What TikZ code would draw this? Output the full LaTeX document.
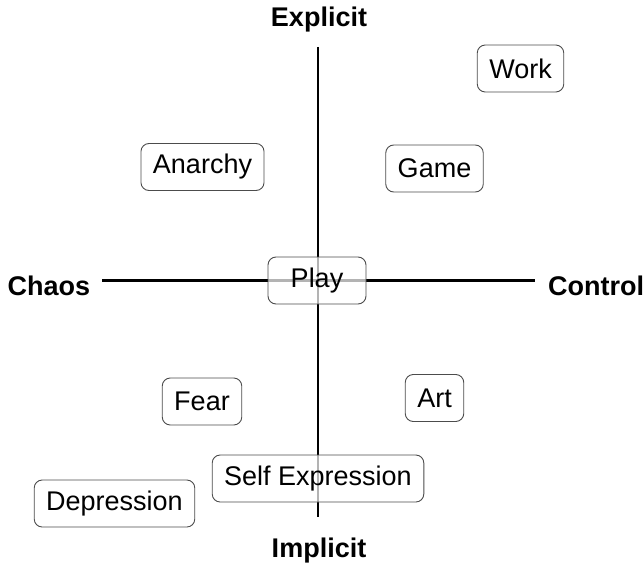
\documentclass[tikz,border=0pt]{standalone}
\usepackage{fontspec}
\setmainfont{Liberation Sans}
\usetikzlibrary{positioning}

\begin{document}
\begin{tikzpicture}[x=1pt,y=-1pt,
    concept/.style={draw=black!70,line width=0.9pt,rounded corners=8pt,fill=white,
                    fill opacity=0.7,text opacity=1,font=\fontsize{27}{32}\selectfont,
                    minimum height=47pt,inner xsep=12pt},
    pole/.style={font=\fontsize{27}{32}\selectfont\bfseries,anchor=base,inner sep=0pt},
    axis/.style={line width=2.8pt}]
    \useasboundingbox (0,0) rectangle (644,564);

    \node[pole]  (explicit) at (319,27)  {Explicit};
    \node[pole]  (implicit) at (319,557) {Implicit};
    \node[pole]  (chaos)    at (49,295)  {Chaos};
    \node[pole]  (control)  at (596,295) {Control};

    \coordinate (top)    at (318,47);
    \coordinate (bottom) at (318,517);
    \coordinate (left)   at (102,280.5);
    \coordinate (right)  at (535,280.5);

    \draw[axis] (top) -- (bottom);
    \draw[axis] (left) -- (right);

    \node[concept] (work)       at (520.5,68.5) {Work};
    \node[concept] (anarchy)    at (202.5,167)  {Anarchy};
    \node[concept] (game)       at (434.5,168.5){Game};
    \node[concept,minimum width=98pt] (play) at (317,280.5) {Play};
    \node[concept] (fear)       at (202,401.5)  {Fear};
    \node[concept] (art)        at (434.5,398)  {Art};
    \node[concept] (selfexpr)   at (318,478.5)  {Self Expression};
    \node[concept] (depression) at (114.5,503.5){Depression};
\end{tikzpicture}
\end{document}
